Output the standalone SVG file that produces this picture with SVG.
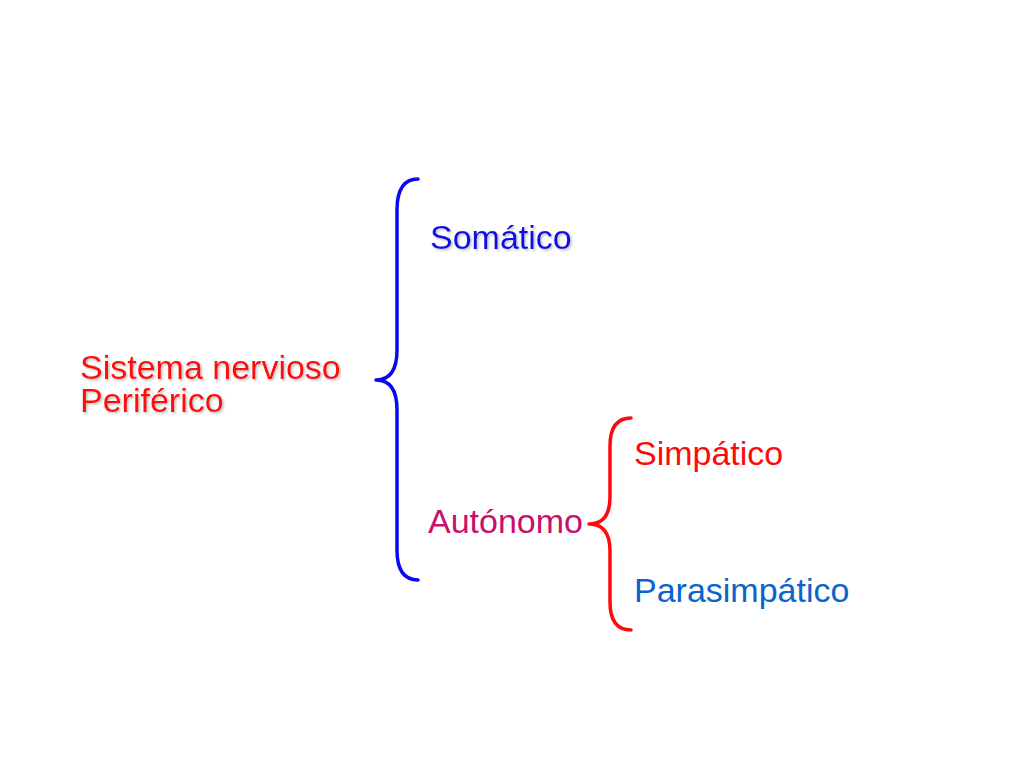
<svg xmlns="http://www.w3.org/2000/svg" width="1024" height="768" viewBox="0 0 1024 768">
<defs>
<style>
.t{font-family:"Liberation Sans",Arial,sans-serif;font-size:34px}
.sh{filter:url(#shadow)}
.br{fill:none;stroke-width:3.5;stroke-linecap:round;stroke-linejoin:round}
</style>
<filter id="shadow" x="-10%" y="-30%" width="120%" height="160%">
<feDropShadow dx="1.5" dy="1.5" stdDeviation="0.8" flood-color="#888888" flood-opacity="0.55"/>
</filter>
</defs>
<rect width="1024" height="768" fill="#ffffff"/>
<g id="connectors">
<path class="br" stroke="#0A0AF0" d="M418,179 Q397,179 397,210 L397,350 Q397,380 376,380 Q397,380 397,410 L397,550 Q397,580 418,580"/>
<path class="br" stroke="#FF0A0A" d="M631,418 Q610,418 610,446 L610,497 Q610,524 589,524 Q610,524 610,551 L610,602 Q610,630 631,630"/>
</g>
<g id="node-sistema">
<text class="t sh" fill="#FF0A0A" x="80" y="379">Sistema nervioso</text>
<text class="t sh" fill="#FF0A0A" x="80" y="412">Periférico</text>
</g>
<g id="node-somatico">
<text class="t sh" fill="#1010E8" x="430" y="249">Somático</text>
</g>
<g id="node-autonomo">
<text class="t" fill="#C8106A" x="428" y="533">Autónomo</text>
</g>
<g id="node-simpatico">
<text class="t" fill="#FF0A0A" x="634" y="465">Simpático</text>
</g>
<g id="node-parasimpatico">
<text class="t" fill="#0A64CC" x="634" y="602">Parasimpático</text>
</g>
</svg>
